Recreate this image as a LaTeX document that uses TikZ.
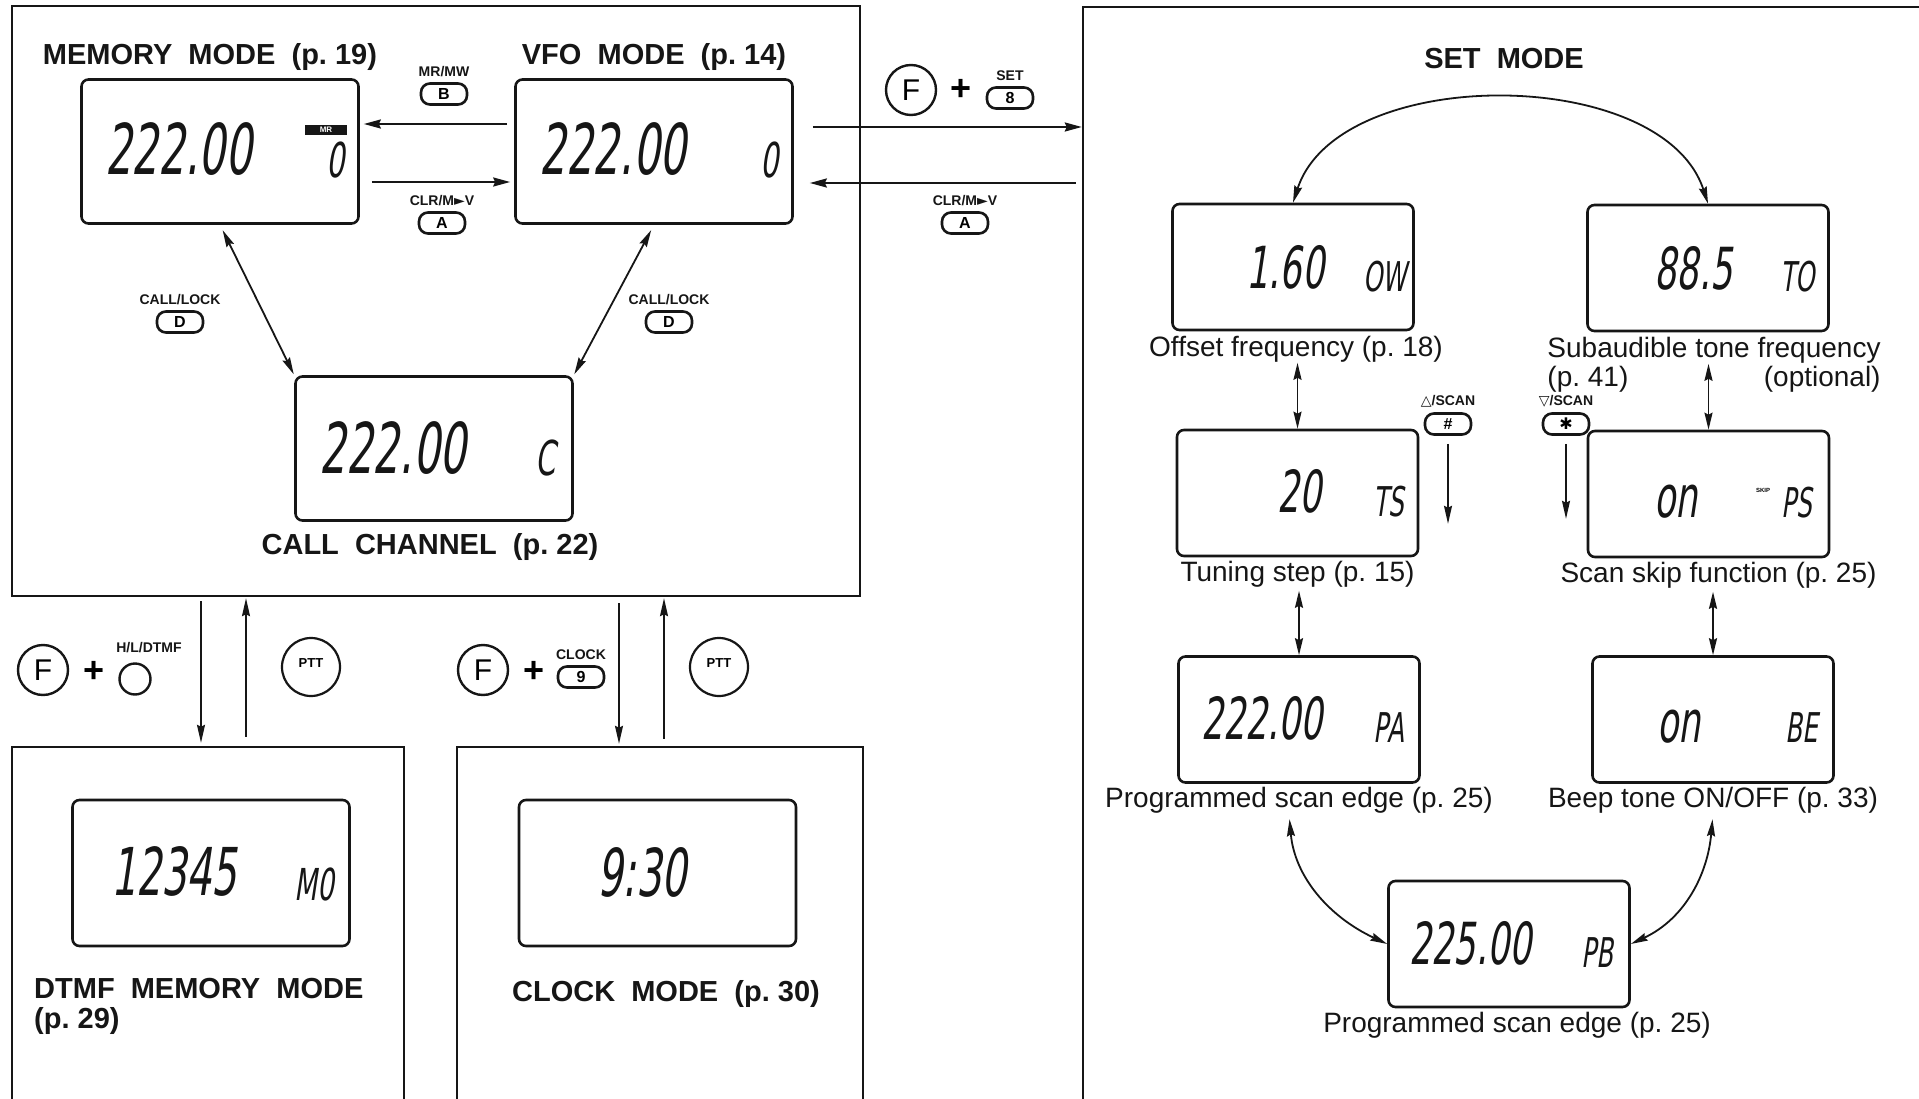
\documentclass[tikz,border=0pt]{standalone}
\usepackage{fontspec}
\setmainfont{Liberation Sans}
\newfontfamily\lcdfont{DejaVu Sans}[FakeStretch=0.6,FakeSlant=0.15]
\newfontfamily\glyphfont{DejaVu Sans}
\usetikzlibrary{arrows.meta, positioning}
\definecolor{icInk}{HTML}{161616}

\begin{document}
\begin{tikzpicture}[x=1pt, y=1pt,
  node distance=6pt,
  panel/.style={draw=icInk, line width=2.4pt, inner sep=0pt},
  lcd/.style={draw=icInk, line width=2.6pt, rounded corners=7pt, minimum width=277pt,
              minimum height=144pt, inner sep=0pt},
  lcdset/.style={lcd, minimum width=241pt, minimum height=126pt},
  seg/.style={font=\lcdfont\fontsize{#1}{#1}\selectfont, text=icInk, inner sep=0pt},
  modetitle/.style={font=\bfseries\fontsize{29}{30}\selectfont, text=icInk, inner sep=0pt, align=left},
  lbl/.style={font=\fontsize{28}{30}\selectfont, text=icInk, inner sep=0pt},
  keycap/.style={font=\bfseries\fontsize{14}{14}\selectfont, text=icInk, inner sep=0pt},
  keybtn/.style={draw=icInk, line width=2.6pt, rounded corners=9pt, minimum width=46pt,
                 minimum height=21pt, inner sep=0pt, font=\bfseries\fontsize{16}{16}\selectfont},
  fkey/.style={draw=icInk, circle, line width=2.4pt, minimum size=50pt, inner sep=0pt,
               font=\fontsize{30}{30}\selectfont},
  plussign/.style={font=\bfseries\fontsize{36}{36}\selectfont, inner sep=0pt},
  ptt/.style={draw=icInk, circle, line width=2.2pt, minimum size=58pt, inner sep=0pt,
              font=\bfseries\fontsize{13}{13}\selectfont},
  arr/.style={-{Stealth[length=17pt,width=9pt,inset=2pt]}, line width=2.2pt, draw=icInk},
  thinarr/.style={-{Stealth[length=18pt,width=8pt,inset=2pt]}, line width=1.6pt, draw=icInk},
  dblarr/.style={{Stealth[length=17pt,width=8pt,inset=2pt]}-{Stealth[length=17pt,width=8pt,inset=2pt]},
                 line width=1.8pt, draw=icInk}
]
  \path[use as bounding box, fill=white] (0,0) rectangle (1919,-1099);

  % Panels
  \node[panel, minimum width=848pt, minimum height=590pt] (mainbox) at (436,-301) {};
  \node[panel, minimum width=842pt, minimum height=1098pt] (setbox) at (1504,-556) {};
  \node[panel, minimum width=392pt, minimum height=358pt] (dtmfbox) at (208,-926) {};
  \node[panel, minimum width=406pt, minimum height=358pt] (clockbox) at (660,-926) {};

  % Main modes
  \node[lcd] (mem) at (220,-151.5) {};
  \node[lcd] (vfo) at (654,-151.5) {};
  \node[lcd] (call) at (434,-448.5) {};
  \node[seg=70] (memval) at ([shift={(-41.5,2)}]mem.center) {222.00};
  \node[seg=48] (memch) at ([shift={(116,-9)}]mem.center) {0};
  \node[fill=icInk, text=white, font=\bfseries\fontsize{8}{8}\selectfont, minimum width=42pt,
        minimum height=10pt, inner sep=0pt] (memtag) at ([shift={(106,21.5)}]mem.center) {MR};
  \node[seg=70] (vfoval) at ([shift={(-41,2)}]vfo.center) {222.00};
  \node[seg=48] (vfoch) at ([shift={(115.5,-9)}]vfo.center) {0};
  \node[seg=70] (callval) at ([shift={(-41,0.5)}]call.center) {222.00};
  \node[seg=48] (callch) at ([shift={(112,-10)}]call.center) {C};

  \node[modetitle, above=7pt of mem, xshift=-10pt] (memtitle) {MEMORY~~MODE~~(p.~19)};
  \node[modetitle, above=7pt of vfo] (vfotitle) {VFO~~MODE~~(p.~14)};
  \node[modetitle, below=11pt of call, xshift=-4pt] (calltitle) {CALL~~CHANNEL~~(p.~22)};

  \node[keybtn] (bkey) at (444,-94) {B};
  \node[keycap, above=5pt of bkey] (bcap) {MR/MW};
  \node[keybtn] (akey) at (442,-223) {A};
  \node[keycap, above=5pt of akey] (acap) {CLR/M{\glyphfont ►}V};
  \node[keybtn] (dkeyl) at (180,-322) {D};
  \node[keycap, above=5pt of dkeyl] (dcapl) {CALL/LOCK};
  \node[keybtn] (dkeyr) at (669,-322) {D};
  \node[keycap, above=5pt of dkeyr] (dcapr) {CALL/LOCK};

  \path ([yshift=27.5pt]vfo.west) coordinate (vfolo) ([yshift=-30.5pt]mem.east) coordinate (memhi);
  \draw[arr, shorten <=7pt, shorten >=4pt] (vfolo) -- (vfolo -| mem.east);
  \draw[arr, shorten <=12pt, shorten >=4pt] (memhi) -- (memhi -| vfo.west);
  \draw[dblarr, shorten <=6pt, shorten >=1pt] (mem.south) -- (call.north west);
  \draw[dblarr, shorten <=6pt, shorten >=1pt] (vfo.south) -- (call.north east);

  % To set mode
  \node[fkey] (fset) at (911,-90) {F};
  \node[plussign] (plusset) at (961,-90) {+};
  \node[keybtn] (setkey) at (1010,-98) {8};
  \node[keycap, above=5pt of setkey] (setcap) {SET};
  \node[keybtn] (akeyr) at (965,-223) {A};
  \node[keycap, above=5pt of akeyr] (acapr) {CLR/M{\glyphfont ►}V};
  \path ([yshift=24.5pt]vfo.east) coordinate (vfoout) ([yshift=-31.5pt]vfo.east) coordinate (vfoin);
  \draw[arr, shorten <=19pt] (vfoout) -- (vfoout -| setbox.west);
  \draw[arr, shorten <=6pt, shorten >=16pt] (vfoin -| setbox.west) -- (vfoin);

  % DTMF memory and clock
  \node[lcd, minimum height=146pt] (dtmf) at (211,-873) {};
  \node[lcd, minimum height=146pt] (clock) at (657.5,-873) {};
  \node[seg=66] (dtmfval) at ([shift={(-37,2)}]dtmf.center) {12345};
  \node[seg=44] (dtmfch) at ([shift={(103,-11.5)}]dtmf.center) {M0};
  \node[seg=66] (clockval) at ([shift={(-15.5,1)}]clock.center) {9:30};
  \node[modetitle, anchor=north west] (dtmftitle) at (34,-978) {DTMF~~MEMORY~~MODE\\(p.~29)};
  \node[modetitle, below=33pt of clock, xshift=8.5pt] (clocktitle) {CLOCK~~MODE~~(p.~30)};

  \node[fkey] (fdtmf) at (43,-670) {F};
  \node[plussign] (plusdtmf) at (94,-672) {+};
  \node[draw=icInk, circle, line width=2.4pt, minimum size=31pt, inner sep=0pt] (dtmfkey) at (135,-679) {};
  \node[keycap] (dtmfcap) at (149,-648) {H/L/DTMF};
  \node[ptt] (pttdtmf) at (311,-667) {\raisebox{7pt}{PTT}};
  \node[fkey] (fclock) at (483,-670) {F};
  \node[plussign] (plusclock) at (534,-672) {+};
  \node[keybtn] (clockkey) at (581,-677) {9};
  \node[keycap, above=5pt of clockkey] (clockcap) {CLOCK};
  \node[ptt] (pttclock) at (719,-667) {\raisebox{7pt}{PTT}};

  \path ([xshift=-7pt]dtmfbox.north) coordinate (dtmfin) ([xshift=38pt]dtmfbox.north) coordinate (dtmfout);
  \path ([xshift=-41pt]clockbox.north) coordinate (clockin) ([xshift=4pt]clockbox.north) coordinate (clockout);
  \draw[thinarr, shorten <=4pt, shorten >=3pt] (dtmfin |- mainbox.south) -- (dtmfin);
  \draw[thinarr, shorten <=9pt, shorten >=1pt] (dtmfout) -- (dtmfout |- mainbox.south);
  \draw[thinarr, shorten <=6pt, shorten >=2pt] (clockin |- mainbox.south) -- (clockin);
  \draw[thinarr, shorten <=7pt, shorten >=1pt] (clockout) -- (clockout |- mainbox.south);

  % Set mode
  \node[modetitle, below=42pt of setbox.north] (settitle) {SET~~MODE};
  \node[lcdset] (off) at (1293,-267) {};
  \node[lcdset] (sub) at (1708,-268) {};
  \node[lcdset] (ts) at (1297.5,-493) {};
  \node[lcdset] (ss) at (1708.5,-494) {};
  \node[lcdset] (pa) at (1299,-719.5) {};
  \node[lcdset] (beep) at (1713,-719.5) {};
  \node[lcdset] (pb) at (1509,-944) {};

  \node[seg=58] (offval) at ([shift={(-7.5,0)}]off.center) {1.60};
  \node[seg=41] (offind) at ([shift={(92,-10)}]off.center) {OW};
  \node[seg=58] (subval) at ([shift={(-14.5,0)}]sub.center) {88.5};
  \node[seg=41] (subind) at ([shift={(89.5,-9)}]sub.center) {TO};
  \node[seg=58] (tsval) at ([shift={(2,1.5)}]ts.center) {20};
  \node[seg=41] (tsind) at ([shift={(91.5,-8.5)}]ts.center) {TS};
  \node[seg=58] (ssval) at ([shift={(-32.5,-7.5)}]ss.center) {on};
  \node[seg=41] (ssind) at ([shift={(88.5,-8.5)}]ss.center) {PS};
  \node[font=\bfseries\fontsize{6}{6}\selectfont, inner sep=0pt] (ssskip) at ([shift={(54.5,4)}]ss.center) {SKIP};
  \node[seg=58] (paval) at ([shift={(-37,1)}]pa.center) {222.00};
  \node[seg=41] (paind) at ([shift={(90,-8.5)}]pa.center) {PA};
  \node[seg=58] (beepval) at ([shift={(-34,-7)}]beep.center) {on};
  \node[seg=41] (beepind) at ([shift={(88.5,-8)}]beep.center) {BE};
  \node[seg=58] (pbval) at ([shift={(-38.5,0.5)}]pb.center) {225.00};
  \node[seg=41] (pbind) at ([shift={(88.5,-8.5)}]pb.center) {PB};

  \node[lbl, below=5pt of off, xshift=3pt] (offlbl) {Offset frequency (p.~18)};
  \node[lbl, below=5pt of sub, xshift=6pt] (sublbl) {Subaudible tone frequency};
  \node[lbl, below right=2pt and 0pt of sublbl.south west] (subpage) {(p.~41)};
  \node[lbl, below left=2pt and 0pt of sublbl.south east] (subopt) {(optional)};
  \node[lbl, below=4pt of ts] (tslbl) {Tuning step (p.~15)};
  \node[lbl, below=4pt of ss, xshift=10pt] (sslbl) {Scan skip function (p.~25)};
  \node[lbl, below=3pt of pa] (palbl) {Programmed scan edge (p.~25)};
  \node[lbl, below=3pt of beep] (beeplbl) {Beep tone ON/OFF (p.~33)};
  \node[lbl, below=4pt of pb, xshift=8pt] (pblbl) {Programmed scan edge (p.~25)};

  \node[keybtn] (upkey) at (1448,-424) {\#};
  \node[keycap, above=5pt of upkey] (upcap) {{\glyphfont △}/SCAN};
  \node[keybtn] (downkey) at (1566,-424) {{\glyphfont\bfseries ✱}};
  \node[keycap, above=5pt of downkey] (downcap) {{\glyphfont ▽}/SCAN};
  \coordinate[below=88pt of upkey] (upend);
  \coordinate[below=83pt of downkey] (downend);
  \draw[thinarr, shorten <=8pt] (upkey) -- (upend);
  \draw[thinarr, shorten <=8pt] (downkey) -- (downend);

  \draw[dblarr] (off.north) to[out=72, in=108, looseness=0.9] (sub.north);
  \draw[dblarr] (offlbl.south -| ts.north) -- (ts.north);
  \draw[dblarr] (sublbl.south -| ss.north) -- (ss.north);
  \draw[dblarr, shorten <=3pt] (tslbl.south -| pa.north) -- (pa.north);
  \draw[dblarr, shorten <=3pt] (sslbl.south -| beep.north) -- (beep.north);
  \draw[dblarr, shorten <=6pt] ([xshift=-10pt]palbl.south) to[out=-85, in=155] (pb.west);
  \draw[dblarr, shorten <=6pt] (beeplbl.south) to[out=-95, in=25] (pb.east);
\end{tikzpicture}
\end{document}
